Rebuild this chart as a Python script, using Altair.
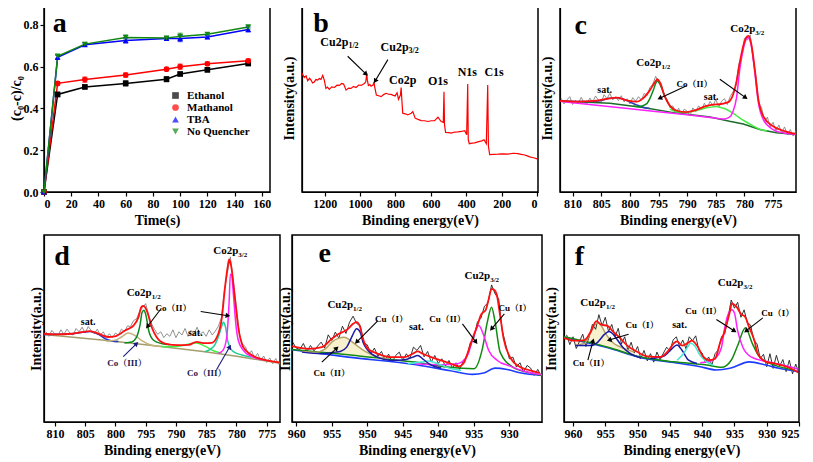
import math
import altair as alt
import pandas as pd

FONT = "Liberation Serif"
TXT = "Liberation Serif, Noto Serif CJK SC, Noto Sans CJK SC"

# ---------------- panel a : quenching ----------------
a_time = [0, 10, 30, 60, 90, 100, 120, 150]
a_series = ["Ethanol", "Mathanol", "TBA", "No Quencher"]
a_colors = ["#000000", "#ff0000", "#0000ff", "#118811"]
a_shapes = ["square", "circle", "triangle-up", "triangle-down"]
a_ethanol = [0, 0.467, 0.503, 0.520, 0.540, 0.565, 0.585, 0.615]
a_methanol = [0, 0.520, 0.538, 0.560, 0.588, 0.600, 0.614, 0.628]
a_tba = [0, 0.645, 0.705, 0.725, 0.735, 0.735, 0.742, 0.778]
a_noq = [0, 0.650, 0.708, 0.740, 0.737, 0.745, 0.755, 0.790]
a_err_eth = [0, 0.010, 0.008, 0.012, 0.012, 0.008, 0.010, 0.008]
a_err_met = [0, 0.008, 0.012, 0.010, 0.008, 0.012, 0.008, 0.008]
a_err_tba = [0, 0.010, 0.008, 0.012, 0.008, 0.015, 0.008, 0.012]
a_err_noq = [0, 0.010, 0.008, 0.012, 0.008, 0.015, 0.008, 0.010]

# ---------------- panel b : survey ----------------
b_pairs = [(1330, 63.4), (1315, 60.9), (1305, 61.8), (1296, 59.2), (1285, 60.5), (1277, 59.5), (1268, 58.0),
           (1259, 58.5), (1250, 59.8), (1240, 59.5), (1230, 60.4), (1221, 59.9), (1211, 62.0), (1202, 59.5),
           (1193, 55.1), (1184, 55.8), (1174, 54.6), (1160, 55.9), (1145, 55.6), (1130, 56.8), (1117, 56.7),
           (1104, 57.7), (1093, 57.4), (1079, 54.2), (1065, 55.3), (1051, 55.1), (1037, 56.2), (1023, 55.6),
           (1008, 56.9), (994, 56.7), (976, 57.7), (968, 58.6), (962, 63.0), (959, 59.5), (953, 56.7),
           (945, 57.2), (938, 56.3), (927, 56.9), (921, 58.5), (917, 55.6), (908, 51.6), (895, 51.2),
           (881, 50.7), (867, 51.8), (853, 52.5), (839, 52.0), (825, 51.9), (812, 51.4), (802, 51.1),
           (791, 52.8), (783, 49.3), (772, 51.6), (768, 55.6), (764, 48.9), (759, 41.9), (745, 41.6),
           (730, 41.0), (720, 41.5), (711, 41.9), (702, 42.8), (689, 39.3), (672, 38.6), (655, 38.0),
           (636, 37.9), (617, 37.5), (598, 37.9), (579, 38.0), (560, 39.8), (542, 37.5), (530, 37.0),
           (526, 53.3), (523, 35.7), (517, 31.7), (500, 31.6), (485, 31.3), (466, 31.9), (447, 32.0),
           (428, 32.2), (409, 32.6), (398, 30.5), (392, 57.4), (389, 27.8), (383, 25.7), (368, 26.0),
           (353, 26.1), (339, 26.5), (325, 26.9), (312, 27.2), (300, 27.8), (287, 25.7), (279, 56.9),
           (275, 24.3), (268, 19.9), (245, 20.0), (221, 20.1), (192, 20.3), (164, 20.2), (136, 20.6),
           (108, 20.4), (90, 20.0), (70, 19.7), (56, 19.2), (42, 18.7), (20, 18.2), (0, 17.6)]

# ---------------- panel c : Co2p (sample 1) ----------------
c_raw_start, c_raw_step = 812.0, -0.5
c_raw = [285, 268, 280, 290, 266, 279, 270, 288, 272, 268, 286, 274, 292, 280, 272, 296, 284, 300, 280, 290,
         278, 293, 274, 284, 268, 287, 276, 290, 280, 300, 294, 318, 328, 352, 335, 330, 290, 282, 256, 262,
         240, 255, 236, 252, 246, 232, 256, 244, 262, 250, 270, 256, 276, 262, 282, 258, 276, 284, 266, 290,
         305, 322, 388, 412, 468, 462, 478, 405, 352, 270, 256, 212, 228, 198, 212, 186, 204, 180, 198, 174,
         190, 170, 186]
c_bg = [(812.2, 277), (803.5, 270), (797.7, 257), (791.9, 240), (786.0, 228), (782.6, 215), (780.2, 207),
        (777.3, 190), (774.4, 180), (771.0, 175)]
c_sat1 = [(812.2, 277), (808.1, 275), (805.8, 276), (804.7, 280), (803.5, 285), (802.3, 287), (801.2, 283),
          (800.0, 274), (798.8, 265), (797.7, 258), (796.5, 254)]
c_co2_12 = [(799.4, 262), (798.3, 260), (797.1, 268), (796.5, 285), (795.9, 310), (795.5, 330), (795.2, 338),
            (794.8, 330), (794.2, 305), (793.6, 280), (793.0, 262), (792.4, 252), (791.9, 246), (790.7, 240)]
c_sat2 = [(793.0, 252), (791.9, 244), (790.1, 243), (788.4, 248), (786.6, 256), (785.5, 259), (784.9, 260),
          (784.3, 258), (783.1, 251), (782.0, 240), (780.8, 225), (779.7, 213), (778.5, 201), (777.3, 191),
          (776.1, 186)]
c_co2_32 = [(812.2, 276), (800.0, 253), (790.0, 235), (786.0, 227), (783.7, 222), (782.6, 228), (782.0, 245),
            (781.4, 285), (780.8, 375), (780.2, 435), (779.7, 465), (779.4, 470), (778.8, 445), (778.2, 365),
            (777.6, 275), (776.7, 220), (775.0, 190), (773.3, 180), (771.0, 175)]
c_env = [(812.2, 277), (809.3, 275), (806.4, 277), (803.5, 285), (802.3, 287), (800.6, 279), (798.8, 275),
         (797.7, 285), (796.5, 310), (795.6, 335), (795.2, 343), (794.8, 335), (793.9, 290), (793.0, 262),
         (791.9, 248), (790.1, 243), (788.4, 250), (786.6, 262), (785.5, 266), (784.3, 267), (783.1, 272),
         (782.6, 276), (782.0, 295), (781.4, 335), (780.8, 395), (780.2, 445), (779.7, 470), (779.3, 475),
         (778.8, 450), (778.2, 375), (777.6, 285), (776.7, 230), (775.0, 200), (773.3, 187), (771.0, 177)]

# ---------------- panel d : Co2p (sample 2) ----------------
d_raw_start, d_raw_step = 811.5, -0.5
d_raw = [276, 262, 280, 270, 264, 282, 268, 284, 272, 266, 286, 276, 290, 272, 292, 280, 270, 284, 266, 276,
         258, 270, 258, 272, 266, 284, 276, 294, 292, 310, 316, 338, 350, 362, 326, 300, 282, 268, 276, 258,
         270, 262, 282, 258, 276, 266, 286, 262, 280, 270, 290, 268, 276, 262, 282, 266, 278, 292, 318, 400,
         455, 505, 430, 352, 270, 238, 230, 206, 218, 196, 210, 188, 202, 182, 196, 178, 194, 176]
d_bg = [(811.8, 268), (801.8, 250), (793.5, 233), (785.2, 215), (779.7, 200), (772.8, 180)]
d_sat1 = [(811.8, 268), (807.2, 270), (805.6, 274), (804.2, 277), (802.8, 268), (801.7, 255), (800.6, 248),
          (799.5, 246)]
d_co3_12 = [(801.5, 248), (800.1, 250), (799.0, 260), (797.9, 272), (796.8, 265), (795.7, 250), (794.0, 235),
            (792.5, 231)]
d_co2_12 = [(798.5, 242), (797.3, 245), (796.5, 260), (795.9, 300), (795.6, 335), (795.3, 342), (795.0, 330),
            (794.5, 280), (793.7, 250), (792.4, 240), (791.0, 236)]
d_sat2 = [(792.4, 232), (791.8, 230), (789.6, 232), (787.4, 240), (786.6, 242), (785.2, 232), (783.8, 218),
          (782.4, 210)]
d_co3_32 = [(785.2, 215), (783.8, 230), (783.0, 260), (782.4, 295), (782.2, 305), (781.8, 290), (781.4, 245),
            (780.5, 215), (779.1, 205), (777.5, 198)]
d_co2_32 = [(783.0, 210), (782.2, 220), (781.6, 260), (781.2, 370), (781.0, 452), (780.8, 450), (780.5, 390),
            (780.1, 300), (779.7, 250), (778.9, 220), (777.5, 200), (775.3, 190)]
d_env = [(811.8, 270), (810.0, 268), (807.2, 270), (805.6, 275), (804.2, 278), (802.8, 270), (801.2, 260),
         (800.1, 262), (798.4, 280), (797.0, 295), (796.2, 320), (795.7, 352), (795.4, 355), (794.8, 340),
         (794.0, 290), (793.2, 260), (791.8, 240), (789.6, 235), (787.9, 236), (786.6, 245), (785.2, 241),
         (784.1, 242), (783.0, 270), (782.4, 320), (781.9, 410), (781.4, 480), (781.2, 497), (780.9, 480),
         (780.2, 370), (779.7, 290), (778.9, 230), (777.5, 205), (775.3, 190), (772.8, 182)]

# ---------------- panel e : Cu2p (sample 1) ----------------
e_raw_start, e_raw_step = 960.5, -0.5
e_raw = [240, 222, 218, 236, 212, 230, 214, 228, 240, 222, 262, 245, 270, 252, 288, 266, 300, 318, 296, 290,
         238, 232, 205, 222, 198, 212, 186, 204, 180, 200, 210, 185, 205, 190, 225, 215, 230, 196, 212, 180,
         200, 176, 190, 168, 185, 162, 178, 158, 182, 195, 238, 252, 300, 312, 348, 358, 412, 385, 370, 275,
         232, 190, 195, 165, 178, 150, 170, 162, 140, 158, 138, 150]
e_bg = [(960.6, 217), (952.7, 195), (943.1, 172), (938.5, 155), (935.2, 143), (933.6, 147), (932.0, 162),
        (930.3, 158), (928.5, 148), (925.4, 140)]
e_cu1_32 = [(960.6, 218), (952.7, 202), (943.4, 180), (938.7, 165), (935.0, 160), (933.8, 220), (933.1, 300),
            (932.5, 345), (932.0, 300), (931.3, 210), (929.5, 165), (927.5, 150), (925.4, 140)]
e_cu2_32 = [(943.3, 175), (939.6, 172), (937.3, 175), (935.9, 200), (935.2, 245), (934.3, 290), (933.6, 260),
            (932.9, 215), (931.7, 185), (929.9, 168), (927.8, 152), (925.4, 142)]
e_sat_b = [(944.3, 175), (942.4, 180), (941.3, 183), (940.1, 175), (938.2, 160), (936.8, 155)]
e_sat_a = [(946.6, 185), (944.7, 187), (943.6, 195), (942.9, 200), (942.2, 190), (941.3, 175), (939.6, 162)]
e_cu1_12 = [(959.2, 210), (956.4, 205), (954.5, 210), (953.8, 212), (952.9, 225), (952.2, 255), (951.5, 280),
            (951.0, 270), (950.6, 240), (949.9, 215), (948.2, 192), (946.6, 185)]
e_cu2_12 = [(959.2, 212), (957.3, 210), (955.9, 220), (955.0, 240), (954.0, 252), (953.3, 255), (952.7, 250),
            (951.5, 230), (950.3, 212), (948.9, 198), (947.1, 190)]
e_cu2_12_base = [215, 211, 208, 207, 205, 203, 202, 199, 196, 193, 188]
e_env = [(960.6, 228), (958.2, 220), (956.4, 225), (955.0, 250), (954.0, 265), (953.3, 272), (952.7, 280),
         (952.0, 295), (951.5, 300), (951.0, 285), (950.6, 250), (949.9, 220), (948.5, 205), (946.6, 195),
         (944.7, 195), (943.6, 205), (942.9, 212), (942.2, 205), (941.0, 195), (939.6, 185), (938.2, 175),
         (937.1, 167), (936.4, 178), (935.9, 205), (935.2, 250), (934.5, 290), (934.0, 322), (933.3, 338),
         (932.9, 370), (932.5, 400), (932.2, 398), (931.8, 385), (931.3, 320), (930.8, 250), (929.9, 195),
         (928.5, 165), (927.1, 155), (925.8, 148)]

# ---------------- panel f : Cu2p (sample 2) ----------------
f_raw_start, f_raw_step = 961.0, -0.5
f_raw = [268, 238, 262, 226, 248, 270, 232, 262, 300, 285, 330, 296, 322, 278, 300, 262, 288, 240, 262, 220,
         245, 212, 232, 195, 220, 188, 210, 184, 215, 192, 212, 230, 218, 252, 262, 232, 252, 225, 262, 250,
         265, 220, 212, 182, 200, 175, 210, 222, 262, 272, 320, 375, 350, 368, 322, 345, 305, 298, 252, 240,
         195, 208, 170, 210, 165, 205, 172, 192, 155, 190, 148, 178, 150]
f_bg = [(961.4, 260), (954.6, 228), (949.5, 198), (944.4, 183), (940.3, 170), (937.8, 160), (935.7, 165),
        (932.7, 185), (930.1, 175), (928.1, 165), (925.1, 155)]
f_cu1_32 = [(961.4, 262), (954.6, 230), (949.5, 200), (944.4, 185), (939.3, 175), (937.0, 168), (935.5, 190),
            (934.5, 235), (933.3, 290), (932.2, 240), (931.1, 200), (928.8, 175), (925.8, 160)]
f_cu2_32 = [(940.3, 182), (939.0, 185), (938.0, 195), (937.0, 230), (936.5, 290), (936.0, 330), (935.4, 345),
            (935.0, 335), (934.5, 280), (933.7, 230), (932.4, 200), (929.9, 185), (926.0, 168), (925.1, 162)]
f_sat_a = [(948.0, 195), (946.0, 202), (944.7, 225), (943.9, 237), (943.1, 220), (942.1, 190), (940.8, 180)]
f_sat_b = [(943.9, 190), (942.9, 210), (942.1, 235), (941.8, 243), (941.2, 235), (940.3, 205), (939.3, 185),
           (938.3, 175)]
f_cu2_12 = [(959.7, 235), (958.2, 242), (957.4, 270), (956.7, 297), (956.2, 305), (955.6, 295), (954.9, 270),
            (953.9, 245), (952.6, 230), (950.5, 215)]
f_cu2_12_base = [254, 247, 243, 240, 238, 235, 231, 226, 218, 206]
f_cu1_12 = [(959.7, 235), (957.2, 235), (956.2, 245), (955.1, 270), (954.4, 278), (953.9, 272), (953.4, 260),
            (952.3, 230), (951.1, 210), (949.5, 197)]
f_env = [(961.4, 258), (959.7, 250), (958.2, 252), (957.2, 280), (956.4, 310), (955.7, 300), (954.6, 295),
         (953.9, 280), (952.8, 260), (951.6, 235), (950.0, 215), (948.5, 202), (946.5, 200), (945.2, 220),
         (944.4, 242), (943.9, 248), (943.1, 235), (942.1, 245), (941.6, 250), (940.8, 235), (939.8, 200),
         (939.0, 190), (938.0, 195), (937.2, 245), (936.5, 280), (935.7, 340), (935.4, 365), (934.7, 355),
         (933.9, 330), (933.4, 325), (932.7, 290), (931.9, 250), (931.4, 210), (930.1, 185), (928.8, 180),
         (926.0, 162), (925.1, 152)]

# ---------------- annotations ----------------
a_letter = [(11.5, 0.805, "a")]
b_letter = [(1221, 89.5, "b")]
b_plain = [(759, 59.5, "Co2p"), (560, 59.2, "O1s"), (394, 63.9, "N1s"), (243, 63.9, "C1s")]
b_sub = [(1066, 79.8, "Cu2p", "1/2"), (726, 77.1, "Cu2p", "3/2")]
b_arrows = [(1070, 72.2, 966, 62.7), (843, 70.4, 915, 59.0)]

c_letter = [(808.6, 504, "c")]
c_sub = [(778.1, 495, "Co2p", "3/2"), (794.5, 393, "Co2p", "1/2")]
c_sat = [(804.4, 310, "sat."), (785.8, 290, "sat.")]
c_state = [(788.7, 330, "Co（II）")]
c_arrows = [(790.1, 323, 794.8, 285), (784.3, 343, 779.8, 287)]

d_letter = [(808.8, 505, "d")]
d_sub = [(779.7, 522, "Co2p", "3/2"), (794.0, 395, "Co2p", "1/2")]
d_sat = [(804.5, 305, "sat."), (786.8, 272, "sat.")]
d_state = [(790.4, 350, "Co（II）")]
d_state3 = [(798.1, 182, "Co（III）"), (784.9, 150, "Co（III）")]
d_arrows = [(792.4, 348, 794.7, 292), (785.9, 338, 781.4, 325)]
d_arrows3 = [(798.7, 200, 796.5, 240), (783.3, 160, 781.1, 230)]

e_letter = [(956.0, 505, "e")]
e_sub = [(932.7, 440, "Cu2p", "3/2"), (952.0, 352, "Cu2p", "1/2")]
e_sat = [(943.1, 285, "sat.")]
e_state = [(946.6, 310, "Cu（I）"), (955.0, 148, "Cu（II）"), (938.7, 310, "Cu（II）"), (929.2, 342, "Cu（I）")]
e_arrows = [(948.5, 305, 951.5, 240), (956.4, 180, 954.3, 222), (936.6, 295, 934.7, 240), (930.7, 325, 932.5, 280)]

f_letter = [(959.0, 508, "f")]
f_sub = [(933.6, 428, "Cu2p", "3/2"), (954.9, 365, "Cu2p", "1/2")]
f_sat = [(943.5, 298, "sat.")]
f_state = [(949.3, 297, "Cu（I）"), (957.2, 180, "Cu（II）"), (939.8, 340, "Cu（II）"), (928.3, 335, "Cu（I）")]
f_arrows = [(951.4, 270, 954.4, 252), (957.7, 190, 956.9, 250), (937.8, 315, 935.0, 280), (930.6, 320, 933.2, 280)]


# ---------------- helpers ----------------
class Panel:
    def __init__(self, xdom, ydom, xrev, W, H, xticks, xtitle, ytitle,
                 ylabels=False, yticks=None, yfmt=None, ytitlepad=4, xfmt="d"):
        self.xdom, self.ydom, self.xrev, self.W, self.H = xdom, ydom, xrev, W, H
        xaxis = alt.Axis(values=xticks, title=xtitle, format=xfmt)
        if ylabels:
            yaxis = alt.Axis(values=yticks, format=yfmt, title=ytitle, titlePadding=ytitlepad)
        else:
            yaxis = alt.Axis(labels=False, ticks=False, title=ytitle, titlePadding=ytitlepad)
        self.xs = alt.Scale(domain=xdom, reverse=xrev, nice=False, zero=False)
        self.ys = alt.Scale(domain=ydom, nice=False, zero=False)
        self.xaxis, self.yaxis = xaxis, yaxis
        self.layers = []

    def X(self, f="x"):
        return alt.X(f + ":Q", scale=self.xs, axis=self.xaxis)

    def Y(self, f="y"):
        return alt.Y(f + ":Q", scale=self.ys, axis=self.yaxis)

    def line(self, pairs, color, w=1.5, interp="monotone"):
        df = pd.DataFrame(pairs, columns=["x", "y"])
        self.layers.append(alt.Chart(df).mark_line(color=color, strokeWidth=w, interpolate=interp,
                                                   clip=True).encode(x=self.X(), y=self.Y()))

    def fill(self, pairs, base, color, opacity=0.7):
        df = pd.DataFrame([(p[0], p[1], b) for p, b in zip(pairs, base)], columns=["x", "y", "b"])
        self.layers.append(alt.Chart(df).mark_area(color=color, opacity=opacity, interpolate="monotone",
                                                   clip=True)
                           .encode(x=self.X(), y=self.Y(), y2="b:Q"))

    def raw(self, start, step, vals, color, w=0.8):
        xs = [start + k * step for k in range(len(vals))]
        self.line(list(zip(xs, vals)), color, w, "linear")

    def text(self, rows, size, color="black", align="center", dy=0, weight="bold"):
        df = pd.DataFrame(rows, columns=["x", "y", "t"])
        self.layers.append(alt.Chart(df).mark_text(font=TXT, fontSize=size, fontWeight=weight, color=color,
                                                   align=align, baseline="middle", dy=dy)
                           .encode(x=self.X(), y=self.Y(), text="t:N"))

    def subtext(self, rows, size, subsize, color="black"):
        self.text([(r[0], r[1], r[2]) for r in rows], size, color, align="right")
        self.text([(r[0], r[1], r[3]) for r in rows], subsize, color, align="left", dy=4)

    def arrows(self, rows, color="black"):
        kx = self.W / (self.xdom[1] - self.xdom[0]) * (-1 if self.xrev else 1)
        ky = self.H / (self.ydom[1] - self.ydom[0])
        heads = []
        for x1, y1, x2, y2 in rows:
            sx = (x2 - x1) * kx
            sy = -(y2 - y1) * ky
            ang = math.degrees(math.atan2(sx, -sy)) % 360
            heads.append((x2, y2, ang))
        df = pd.DataFrame(rows, columns=["x", "y", "x2", "y2"])
        self.layers.append(alt.Chart(df).mark_rule(color=color, strokeWidth=1.1)
                           .encode(x=self.X(), y=self.Y(), x2="x2:Q", y2="y2:Q"))
        dh = pd.DataFrame(heads, columns=["x", "y", "ang"])
        self.layers.append(alt.Chart(dh).mark_point(shape="triangle-up", filled=True, size=30, color=color,
                                                    opacity=1)
                           .encode(x=self.X(), y=self.Y(), angle=alt.Angle("ang:Q", scale=None)))

    def chart(self):
        return alt.layer(*self.layers).properties(width=self.W, height=self.H)


H1, H2 = 188, 187
RED = "#ff1010"
MAG = "#ff22ff"
BINDING = "Binding energy(eV)"
INT = "Intensity(a.u.)"
RAWGRAY = "#858585"
RAWBLACK = "#1e1e1e"
PALE = "#f3edb8"

# ---- a ----
pa = Panel([0, 166], [0, 0.9], False, 226, H1, [0, 20, 40, 60, 80, 100, 120, 140, 160], "Time(s)",
           "(c₀-c)/c₀", ylabels=True, yticks=[0, 0.2, 0.4, 0.6, 0.8], yfmt=".1f", ytitlepad=0)
rows = []
for name, vals, errs in [("Ethanol", a_ethanol, a_err_eth), ("Mathanol", a_methanol, a_err_met),
                         ("TBA", a_tba, a_err_tba), ("No Quencher", a_noq, a_err_noq)]:
    for t, v, e in zip(a_time, vals, errs):
        rows.append((t, v, name, v - e, v + e))
adf = pd.DataFrame(rows, columns=["x", "y", "s", "lo", "hi"])
leg = alt.Legend(orient="none", legendX=126, legendY=86, title=None, labelFont=FONT, labelFontSize=11,
                 labelFontWeight="bold", labelColor="black", symbolSize=45, rowPadding=0, labelOffset=6,
                 padding=0, symbolStrokeWidth=0)
col = alt.Color("s:N", scale=alt.Scale(domain=a_series, range=a_colors), legend=leg)
shp = alt.Shape("s:N", scale=alt.Scale(domain=a_series, range=a_shapes), legend=leg)
pa.layers.append(alt.Chart(adf).mark_line(strokeWidth=1.5).encode(x=pa.X(), y=pa.Y(), color=col))
pa.layers.append(alt.Chart(adf).mark_errorbar(ticks=True, thickness=1.2).encode(
    x=pa.X(), y=alt.Y("lo:Q", scale=pa.ys, axis=pa.yaxis), y2="hi:Q", color=col))
pa.layers.append(alt.Chart(adf).mark_point(filled=True, size=32, opacity=1).encode(
    x=pa.X(), y=pa.Y(), color=col, shape=shp))
pa.text(a_letter, 28, align="center")

# ---- b ----
pb = Panel([-5, 1328], [0, 100], True, 236, H1, [0, 200, 400, 600, 800, 1000, 1200], BINDING, INT,
           ytitlepad=6)
pb.line(b_pairs, "#ff0000", 1.2, "linear")
pb.text(b_letter, 28)
pb.text(b_plain, 12)
pb.subtext(b_sub, 12, 8)
pb.arrows(b_arrows)

# ---- c ----
pc = Panel([771, 812.2], [0, 572], True, 236, H1, [775, 780, 785, 790, 795, 800, 805, 810], BINDING, INT,
           ytitlepad=6)
pc.raw(c_raw_start, c_raw_step, c_raw, RAWGRAY, 0.9)
pc.line(c_bg, "#1d6b2a", 1.5, "linear")
pc.line(c_sat1, "#2b3fbf")
pc.line(c_co2_12, "#0d8a1e")
pc.line(c_sat2, "#44ee44")
pc.line(c_co2_32, MAG)
pc.line(c_env, RED, 1.8)
pc.text(c_letter, 28)
pc.subtext(c_sub, 11, 7)
pc.text(c_sat, 10)
pc.text(c_state, 9)
pc.arrows(c_arrows)

# ---- d ----
pdd = Panel([772.8, 811.8], [0, 572], True, 236, H2, [775, 780, 785, 790, 795, 800, 805, 810], BINDING, INT,
            ytitlepad=1)
pdd.raw(d_raw_start, d_raw_step, d_raw, RAWGRAY, 0.9)
pdd.line(d_bg, "#a39d6b", 1.5, "linear")
pdd.line(d_sat1, "#2233cc")
pdd.line(d_co3_12, "#c2b279")
pdd.line(d_co2_12, "#0d8a1e")
pdd.line(d_sat2, "#44ee44")
pdd.line(d_co3_32, "#22cc99")
pdd.line(d_co2_32, MAG)
pdd.line(d_env, RED, 1.8)
pdd.text(d_letter, 28)
pdd.subtext(d_sub, 11, 7)
pdd.text(d_sat, 10)
pdd.text(d_state, 9)
pdd.text(d_state3, 9, color="#202050")
pdd.arrows(d_arrows)
pdd.arrows(d_arrows3, "#1a1a80")

# ---- e ----
pe = Panel([925.4, 960.6], [0, 562], True, 250, H2, [925, 930, 935, 940, 945, 950, 955, 960], BINDING, INT,
           ytitlepad=0)
pe.fill(e_cu2_12, e_cu2_12_base, PALE)
pe.raw(e_raw_start, e_raw_step, e_raw, RAWBLACK, 0.9)
pe.line(e_bg, "#1e3cff", 1.6)
pe.line(e_cu1_32, "#118a11")
pe.line(e_cu2_32, MAG)
pe.line(e_sat_b, "#44e8d0")
pe.line(e_sat_a, "#1a1aa6")
pe.line(e_cu2_12, "#b5a467")
pe.line(e_cu1_12, "#1a1aa6")
pe.line(e_env, RED, 1.8)
pe.text(e_letter, 28)
pe.subtext(e_sub, 11, 7)
pe.text(e_sat, 10)
pe.text(e_state, 9)
pe.arrows(e_arrows)

# ---- f ----
pf = Panel([925.0, 961.4], [0, 575], True, 235, H2, [925, 930, 935, 940, 945, 950, 955, 960], BINDING, INT,
           ytitlepad=6)
pf.fill(f_cu2_12, f_cu2_12_base, PALE)
pf.raw(f_raw_start, f_raw_step, f_raw, RAWBLACK, 0.9)
pf.line(f_bg, "#1e3cff", 1.6)
pf.line(f_cu1_32, "#118a11")
pf.line(f_cu2_32, MAG)
pf.line(f_sat_a, "#1a1aa6")
pf.line(f_sat_b, "#44e8d0")
pf.line(f_cu2_12, "#b5a467")
pf.line(f_cu1_12, "#1a1aa6")
pf.line(f_env, RED, 1.8)
pf.text(f_letter, 28)
pf.subtext(f_sub, 11, 7)
pf.text(f_sat, 10)
pf.text(f_state, 9)
pf.arrows(f_arrows)

row1a = alt.hconcat(pa.chart(), pb.chart(), spacing=9).resolve_scale(x="independent", y="independent")
row1 = alt.hconcat(row1a, pc.chart(), spacing=0).resolve_scale(x="independent", y="independent")
row2a = alt.hconcat(pdd.chart(), pe.chart(), spacing=-4).resolve_scale(x="independent", y="independent")
row2 = alt.hconcat(row2a, pf.chart(), spacing=0).resolve_scale(x="independent", y="independent")

chart = alt.vconcat(row1, row2, spacing=6).resolve_scale(
    x="independent", y="independent").properties(
    padding={"left": 0, "top": -5, "right": 0, "bottom": 0}).configure_axis(
    labelFont=FONT, labelFontWeight="bold", labelFontSize=12, labelColor="black",
    titleFont=FONT, titleFontWeight="bold", titleFontSize=14, titleColor="black",
    domainColor="black", domainWidth=1.2, tickColor="black", tickWidth=1.2, tickSize=4,
    grid=False, labelPadding=2
).configure_view(stroke="black", strokeWidth=1.5)

chart.save("out.html", embed_options={"renderer": "svg", "actions": False})
